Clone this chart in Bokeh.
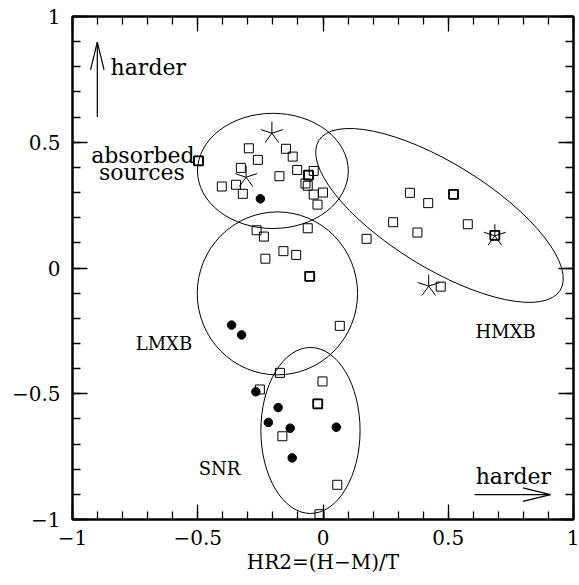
import numpy as np
from bokeh.plotting import figure
from bokeh.models import SingleIntervalTicker, LinearAxis, CustomJSTickFormatter, Label, Range1d
from bokeh.core.properties import value
from bokeh.embed import file_html
from bokeh.resources import INLINE

FONT = "DejaVu Serif"

# ---------------- data ----------------
# open squares
sq_x = [-0.296, -0.148, -0.121, -0.260, -0.497, -0.328, -0.103, -0.058, -0.037, -0.174,
        -0.404, -0.347, -0.070, -0.061, -0.320, -0.037, 0.000, -0.022,
        -0.265, -0.236, -0.061, -0.158, -0.107, -0.230, -0.053, 0.067,
        0.347, 0.521, 0.420, 0.280, 0.578, 0.377, 0.174, 0.686, 0.470,
        -0.172, -0.002, -0.252, -0.021, -0.162, 0.057, -0.014]
sq_y = [0.476, 0.474, 0.443, 0.430, 0.426, 0.398, 0.390, 0.369, 0.386, 0.365,
        0.324, 0.331, 0.336, 0.327, 0.295, 0.292, 0.300, 0.252,
        0.150, 0.125, 0.158, 0.067, 0.052, 0.037, -0.033, -0.230,
        0.299, 0.293, 0.258, 0.182, 0.174, 0.141, 0.116, 0.130, -0.074,
        -0.417, -0.451, -0.483, -0.540, -0.669, -0.862, -0.979]
# squares drawn twice (overlapping sources, appear bold)
sqb_x = [-0.058, 0.521, -0.053, -0.021, -0.497, 0.686]
sqb_y = [0.369, 0.293, -0.033, -0.540, 0.426, 0.130]

# filled circles
dot_x = [-0.250, -0.365, -0.325, -0.268, -0.179, -0.218, -0.131, 0.053, -0.123]
dot_y = [0.275, -0.227, -0.266, -0.492, -0.555, -0.614, -0.637, -0.633, -0.755]

# five-armed stars
star_x = [-0.204, -0.307, 0.686, 0.422]
star_y = [0.536, 0.361, 0.128, -0.072]

# class ellipses: absorbed, LMXB, SNR, HMXB
ell_x = [-0.200, -0.182, -0.050, 0.465]
ell_y = [0.386, -0.101, -0.646, 0.209]
ell_w = [0.602, 0.640, 0.396, 1.134]
ell_h = [0.458, 0.648, 0.660, 0.414]
ell_a = [0.0, 0.0, 0.0, -0.555]

# "harder" arrows
arr_x0 = [-0.901, 0.605]
arr_y0 = [0.600, -0.901]
arr_x1 = [-0.901, 0.908]
arr_y1 = [0.898, -0.901]

# annotation texts
big_text = ["harder", "absorbed", "sources", "harder"]
big_x = [-0.848, -0.719, -0.723, 0.760]
big_y = [0.797, 0.447, 0.380, -0.829]
big_align = ["left", "center", "center", "center"]

cls_text = ["LMXB", "HMXB", "SNR"]
cls_x = [-0.635, 0.729, -0.413]
cls_y = [-0.300, -0.252, -0.797]

# ---------------- figure ----------------
p = figure(frame_width=501, frame_height=503,
           x_range=Range1d(-1, 1), y_range=Range1d(-1, 1),
           output_backend="svg", toolbar_location=None,
           min_border_left=72, min_border_right=6,
           min_border_top=16, min_border_bottom=66)
p.background_fill_color = "white"
p.border_fill_color = "white"
p.xgrid.visible = False
p.ygrid.visible = False
p.outline_line_color = "black"
p.outline_line_width = 2

fmt_code = """
const t = Math.round(tick*10)/10;
if (t < 0) return "\\u2212" + (-t).toString();
return t.toString();
"""

def style_axis(ax, labels=True):
    ax.ticker = SingleIntervalTicker(interval=0.5, num_minor_ticks=5)
    ax.major_tick_in = 15
    ax.major_tick_out = 0
    ax.minor_tick_in = 8
    ax.minor_tick_out = 0
    ax.axis_line_width = 2
    ax.axis_line_color = "black"
    ax.major_tick_line_color = "black"
    ax.minor_tick_line_color = "black"
    ax.major_tick_line_width = 1.3
    ax.minor_tick_line_width = 1.3
    if labels:
        ax.formatter = CustomJSTickFormatter(code=fmt_code)
        ax.major_label_text_font = FONT
        ax.major_label_text_font_size = "20px"
        ax.major_label_text_color = "black"
    else:
        ax.formatter = CustomJSTickFormatter(code='return "";')
        ax.major_label_text_font_size = "1px"
        ax.major_label_standoff = 0

xa = p.xaxis[0]
ya = p.yaxis[0]
style_axis(xa)
style_axis(ya)
xa.major_label_standoff = 10
ya.major_label_standoff = 12
xa.axis_label = "HR2=(H\u2212M)/T"
xa.axis_label_text_font = FONT
xa.axis_label_text_font_size = "20px"
xa.axis_label_text_font_style = "normal"
xa.axis_label_text_color = "black"
xa.axis_label_standoff = 2

top = LinearAxis()
right = LinearAxis()
style_axis(top, labels=False)
style_axis(right, labels=False)
p.add_layout(top, "above")
p.add_layout(right, "right")

ylab = Label(x=-1.208, y=0.0, text="HR1=(M\u2212S)/T", angle=np.pi / 2,
             text_align="center", text_baseline="middle",
             text_font=FONT, text_font_size="20px", text_color="black")
p.add_layout(ylab)

# ellipses
p.ellipse(x=ell_x, y=ell_y, width=ell_w, height=ell_h, angle=ell_a,
          fill_color=None, line_color="black", line_width=1)

# squares
p.scatter(x=sq_x, y=sq_y, marker="square", size=9, fill_color=None,
          line_color="black", line_width=1)
p.scatter(x=sqb_x, y=sqb_y, marker="square", size=9, fill_color=None,
          line_color="black", line_width=1.8)

# dots
p.scatter(x=dot_x, y=dot_y, marker="circle", size=8.5, fill_color="black",
          line_color="black")

# stars (five rays)
ang = np.deg2rad([90, 18, 162, 234, 306])
arm = 0.046
n = len(star_x)
sx0 = np.repeat(np.array(star_x), 5)
sy0 = np.repeat(np.array(star_y), 5)
sx1 = sx0 + arm * np.tile(np.cos(ang), n)
sy1 = sy0 + arm * np.tile(np.sin(ang), n)
p.segment(x0=sx0, y0=sy0, x1=sx1, y1=sy1, line_color="black", line_width=1)

# arrows
ax0 = np.array(arr_x0); ay0 = np.array(arr_y0)
ax1 = np.array(arr_x1); ay1 = np.array(arr_y1)
p.segment(x0=ax0, y0=ay0, x1=ax1, y1=ay1, line_color="black", line_width=1.2)
dx = ax1 - ax0; dy = ay1 - ay0
L = np.hypot(dx, dy)
ux, uy = dx / L, dy / L
hl, hw = 0.11, 0.027
bx = ax1 - hl * ux; by = ay1 - hl * uy
for sgn in (1, -1):
    p.segment(x0=ax1, y0=ay1, x1=bx + sgn * hw * (-uy), y1=by + sgn * hw * ux,
              line_color="black", line_width=1.2)

# texts
for t, x, y, al in zip(big_text, big_x, big_y, big_align):
    p.text(x=[x], y=[y], text=[t], text_font=value(FONT), text_font_size="22px",
           text_align=al, text_baseline="alphabetic", text_color="black")
p.text(x=cls_x, y=cls_y, text=cls_text, text_font=value(FONT), text_font_size="18px",
       text_align="center", text_baseline="alphabetic", text_color="black")

open("out.html", "w").write(file_html(p, INLINE))
